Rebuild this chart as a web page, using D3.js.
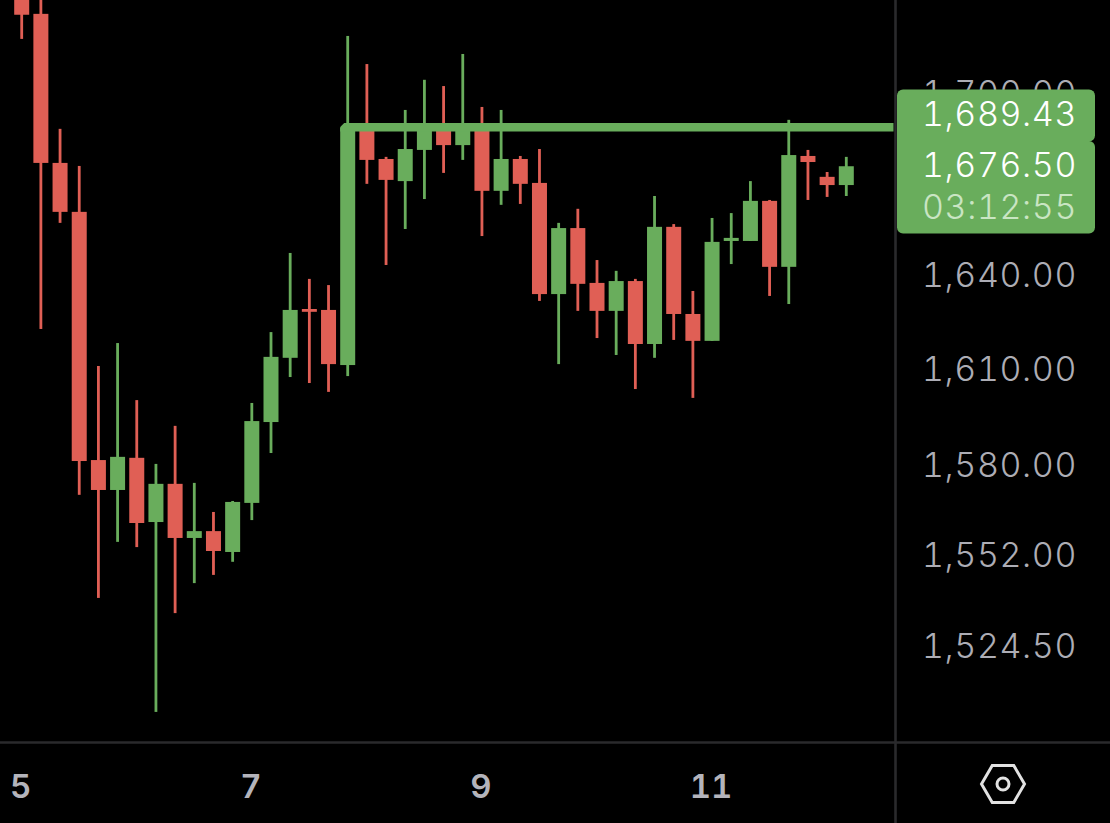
<!DOCTYPE html>
<html>
<head>
<meta charset="utf-8">
<script src="https://cdn.jsdelivr.net/npm/d3@7/dist/d3.min.js"></script>
<style>
html,body{margin:0;padding:0;background:#000;overflow:hidden}
svg{display:block}
text{font-family:Inter,Roboto,sans-serif;font-variant-numeric:tabular-nums;font-feature-settings:"tnum" 1}
</style>
</head>
<body>
<svg id="chart" width="1110" height="823"></svg>
<script>
// 4-hour candles, index 0 = day 5 00:00
const opens  = [1739.2,1727.6,1677.6,1661.5,1582.2,1572.9,1582.9,1563.0,1574.8,1558.1,1560.2,1553.8,1568.9,1594.1,1614.4,1630.0,1629.7,1612.1,1689.5,1678.9,1671.6,1681.9,1690.2,1683.5,1690.2,1668.4,1678.9,1671.0,1634.8,1656.2,1638.4,1629.4,1639.0,1618.8,1656.6,1628.4,1619.8,1652.0,1652.0,1665.1,1643.6,1679.9,1673.0,1670.3];
const highs  = [1742.6,1737.5,1688.9,1676.6,1611.8,1619.1,1601.0,1581.0,1592.9,1575.1,1566.1,1569.5,1600.1,1622.6,1648.1,1639.7,1637.7,1720.1,1710.6,1679.6,1695.2,1705.3,1703.2,1714.0,1696.2,1695.2,1679.9,1682.2,1657.9,1662.5,1645.8,1642.3,1639.7,1666.7,1657.5,1635.8,1659.5,1661.1,1671.6,1665.4,1691.9,1681.9,1674.6,1679.6];
const lows   = [1719.1,1623.6,1657.9,1571.4,1539.8,1556.9,1555.3,1505.6,1535.2,1544.3,1546.8,1550.8,1563.6,1584.4,1608.3,1606.4,1603.6,1608.6,1670.7,1644.2,1655.9,1665.7,1674.3,1678.6,1653.6,1663.8,1664.1,1632.6,1612.4,1629.4,1620.7,1615.3,1604.5,1614.4,1620.1,1601.7,1619.8,1644.5,1652.0,1634.2,1631.6,1665.4,1666.4,1666.7];
const closes = [1727.3,1677.6,1661.5,1581.9,1572.9,1583.2,1562.7,1574.8,1558.1,1560.2,1554.1,1569.2,1594.4,1614.7,1629.7,1629.1,1612.4,1689.2,1678.6,1672.0,1682.2,1690.2,1683.5,1690.2,1668.4,1678.9,1670.7,1634.8,1656.2,1638.1,1629.4,1639.0,1618.8,1656.6,1628.4,1619.8,1651.7,1653.0,1665.1,1643.6,1680.2,1677.9,1670.3,1676.5];

const priceTicks = [1700,1640,1610,1580,1552,1524.5];
const dayTickIndex = [0,12,24,36];
const dayTickLabels = ["5","7","9","11"];
const priceLineLevel = 1689.43;
const priceLineStartIndex = 17;
const priceLineLabel = "1,689.43";
const lastPriceLabel = "1,676.50";
const countdownLabel = "03:12:55";

const GREEN = "#69ad5c", RED = "#e05f55", GRID = "#2a2a2c", TICK = "#adadb5";

const svg = d3.select("#chart");
const x = d3.scaleLinear().domain([0,43]).range([21.7,846.3]);
const y = d3.scaleLog().domain([1524.5,1700]).range([648.6,95.6]);
const bodyW = 15, wickW = 2.8;
const idx = d3.range(opens.length);
const col = i => closes[i] >= opens[i] ? GREEN : RED;

// frame lines
svg.append("line").attr("x1",895.5).attr("x2",895.5).attr("y1",0).attr("y2",823).attr("stroke",GRID).attr("stroke-width",2.6);
svg.append("line").attr("x1",0).attr("x2",1110).attr("y1",742.5).attr("y2",742.5).attr("stroke",GRID).attr("stroke-width",2.6);

// candles
const candles = svg.append("g");
candles.selectAll("rect.wick").data(idx).join("rect").attr("class","wick")
  .attr("x",i=>x(i)-wickW/2).attr("width",wickW)
  .attr("y",i=>y(highs[i])).attr("height",i=>y(lows[i])-y(highs[i]))
  .attr("fill",col);
candles.selectAll("rect.body").data(idx).join("rect").attr("class","body")
  .attr("x",i=>x(i)-bodyW/2).attr("width",bodyW)
  .attr("y",i=>y(Math.max(opens[i],closes[i])))
  .attr("height",i=>Math.max(2.5,Math.abs(y(opens[i])-y(closes[i]))))
  .attr("fill",col);

// price line from the breakout candle to the axis
const lineY = y(priceLineLevel), lineX0 = x(priceLineStartIndex)-bodyW/2;
svg.append("line").attr("x1",lineX0).attr("x2",893.5).attr("y1",lineY).attr("y2",lineY)
  .attr("stroke",GREEN).attr("stroke-width",8.6);
svg.append("path").attr("d",`M${lineX0-0.5},${lineY-4.8}h5l-5,5z`).attr("fill","#000");

// price axis
const yAxis = d3.axisRight(y).tickValues(priceTicks).tickSize(0).tickPadding(0).tickFormat(d3.format(",.2f"));
const yG = svg.append("g").attr("transform","translate(1077,0)").call(yAxis);
yG.select(".domain").remove();
yG.selectAll("text").attr("text-anchor","end").attr("x",0).attr("dy","0").attr("dominant-baseline","central")
  .attr("transform","translate(0,-3.5)").attr("fill",TICK).style("font-size","34px").style("font-weight",300)
  .style("font-family","Inter,Roboto,sans-serif").style("letter-spacing","0.6px");

// time axis
const xAxis = d3.axisBottom(x).tickValues(dayTickIndex).tickSize(0).tickPadding(0)
  .tickFormat((d,i)=>dayTickLabels[i]);
const xG = svg.append("g").attr("transform","translate(0,786)").call(xAxis);
xG.select(".domain").remove();
xG.selectAll("text").attr("y",0).attr("dy","0").attr("dominant-baseline","central").attr("dx",-1.5)
  .attr("fill","#b4b4bb").style("font-size","33px").style("font-weight",600)
  .style("font-family","Inter,Roboto,sans-serif");

// price tags
svg.append("rect").attr("x",897).attr("y",89.5).attr("width",198).attr("height",52).attr("rx",6).attr("fill",GREEN);
svg.append("rect").attr("x",897).attr("y",141).attr("width",198).attr("height",92.5).attr("rx",6).attr("fill",GREEN);
svg.append("rect").attr("x",897).attr("y",130).attr("width",20).attr("height",20).attr("fill",GREEN);
const tag = (t,yy,c) => svg.append("text").attr("x",1077).attr("y",yy).attr("text-anchor","end")
  .attr("dominant-baseline","central").attr("fill",c).style("font-size","34px").style("font-weight",300)
  .style("letter-spacing","0.6px").text(t);
tag(priceLineLabel,113,"#ffffff");
tag(lastPriceLabel,164,"#ffffff");
tag(countdownLabel,206,"#c9e5c3");

// settings icon
const hexR = 21.5, hexH = 18.5, cx = 1003, cy = 784;
svg.append("path").attr("d",d3.line()([[cx-hexR,cy],[cx-hexR/2,cy-hexH],[cx+hexR/2,cy-hexH],[cx+hexR,cy],[cx+hexR/2,cy+hexH],[cx-hexR/2,cy+hexH]])+"Z")
  .attr("fill","none").attr("stroke","#e2e2e2").attr("stroke-width",3);
svg.append("circle").attr("cx",cx).attr("cy",cy).attr("r",6).attr("fill","none").attr("stroke","#e2e2e2").attr("stroke-width",3);
</script>
</body>
</html>
